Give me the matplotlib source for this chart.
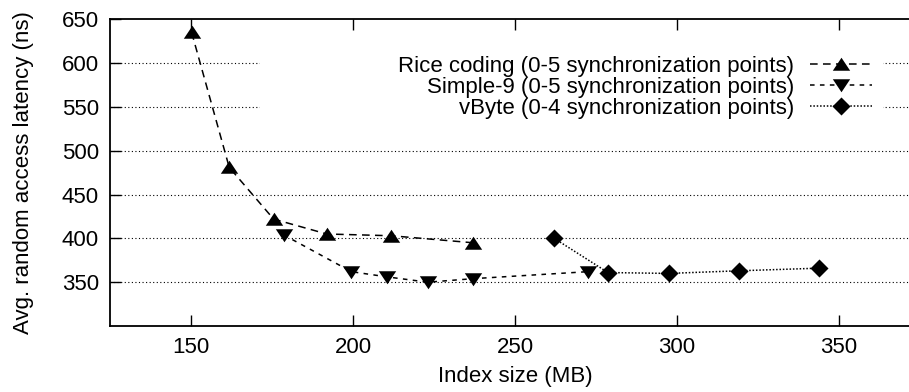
import matplotlib
matplotlib.use("Agg")
import matplotlib.pyplot as plt
from matplotlib.patches import Rectangle

plt.rcParams['font.family'] = ['Liberation Sans', 'DejaVu Sans']

# Data
rice_x = [150.2, 161.8, 175.5, 191.9, 211.8, 237.0]
rice_y = [635, 481, 422, 405, 403, 395]
s9_x = [178.6, 199.5, 210.6, 223.1, 237.0, 272.5]
s9_y = [404, 362, 356, 350, 354, 362]
vb_x = [262.1, 278.7, 297.4, 319.0, 343.9]
vb_y = [400, 361, 360, 363, 366]

labels = ["Rice coding (0-5 synchronization points)",
          "Simple-9 (0-5 synchronization points)",
          "vByte (0-4 synchronization points)"]
xticks = [150, 200, 250, 300, 350]
yticks = [350, 400, 450, 500, 550, 600, 650]

W, H = 909, 392
fig = plt.figure(figsize=(W / 100, H / 100), dpi=100)
L, R, T, B = 110, 920, 19.3, 326
ax = fig.add_axes([L / W, (H - B) / H, (R - L) / W, (B - T) / H])
ax.set_xlim(125, 375)
ax.set_ylim(300, 650)

tri_up = [(-1, -0.72), (1, -0.72), (0, 0.78)]
tri_dn = [(-1, 0.72), (1, 0.72), (0, -0.78)]
diamond = [(0, 1), (1, 0), (0, -1), (-1, 0)]

fs = 16
ax.plot(rice_x, rice_y, color='black', lw=1.1, linestyle=(0, (5, 3.5)),
        marker=tri_up, ms=12.5, mew=0, label=labels[0], zorder=5)
ax.plot(s9_x, s9_y, color='black', lw=1.1, linestyle=(0, (3, 3.5)),
        marker=tri_dn, ms=12.5, mew=0, label=labels[1], zorder=5)
ax.plot(vb_x, vb_y, color='black', lw=1.1, linestyle=(0, (1, 1.2)),
        marker=diamond, ms=13, mew=0, label=labels[2], zorder=5)

ax.set_xticks(xticks)
ax.set_yticks(yticks)
ax.tick_params(direction='in', length=8, width=1, labelsize=fs, top=True, right=True)
ax.tick_params(axis='x', pad=8)
ax.tick_params(axis='y', pad=8)
for s in ax.spines.values():
    s.set_linewidth(1.3)

for y in yticks[:-1]:
    ax.axhline(y, color='black', lw=0.8, linestyle=(0, (1, 2.2)), zorder=1)

# white key box covering grid
kx0 = (260 - L) / (R - L)
kx1 = (883 - L) / (R - L)
ky0 = (B - 122) / (B - T)
ky1 = (B - 45) / (B - T)
ax.add_patch(Rectangle((kx0, ky0), kx1 - kx0, ky1 - ky0, transform=ax.transAxes,
                       facecolor='white', edgecolor='none', zorder=2))

leg = ax.legend(loc='upper right', bbox_to_anchor=((872 - L) / (R - L), (B - 56) / (B - T)),
                frameon=False, markerfirst=False, numpoints=1, fontsize=fs,
                handlelength=2.8, handletextpad=0.7, labelspacing=0.0,
                borderpad=0, borderaxespad=0)
leg.set_zorder(6)

ax.set_xlabel("Index size (MB)", fontsize=fs, labelpad=6)
ax.set_ylabel("Avg. random access latency (ns)", fontsize=fs, labelpad=20)

fig.savefig("out.png", dpi=100)
